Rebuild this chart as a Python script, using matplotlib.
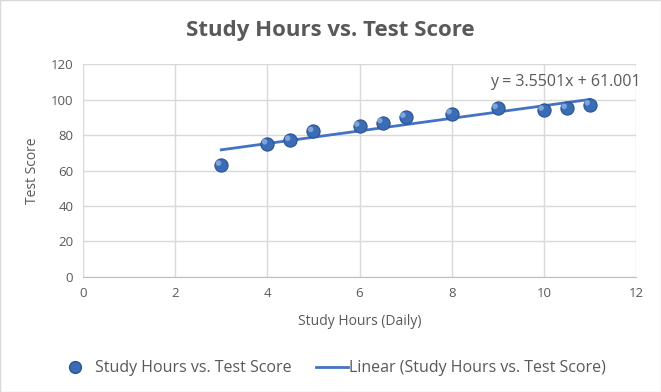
import matplotlib
matplotlib.use("Agg")
import matplotlib.pyplot as plt
import numpy as np
from matplotlib.lines import Line2D

hours = [3, 4, 4.5, 5, 6, 6.5, 7, 8, 9, 10, 10.5, 11]
scores = [63, 75, 77, 82, 85, 87, 90, 92, 95, 94, 95, 97]
x_ticks = [0, 2, 4, 6, 8, 10, 12]
y_ticks = [0, 20, 40, 60, 80, 100, 120]
title = "Study Hours vs. Test Score"
series_name = "Study Hours vs. Test Score"

plt.rcParams['font.family'] = ['Open Sans', 'DejaVu Sans']
gray = '#595959'

fig = plt.figure(figsize=(6.61, 3.92), dpi=100)
fig.patch.set_facecolor('white')
ax = fig.add_axes([0.1256, 0.2934, 0.8366, 0.5433])

slope, intercept = np.polyfit(hours, scores, 1)
xs = np.array([min(hours), max(hours)])
ax.plot(xs, slope * xs + intercept, color='#4472C4', lw=2, zorder=3)

ax.scatter(hours, scores, s=90, color='#3a6db5', edgecolors='#2a5290', linewidths=0.8, zorder=4)
ax.scatter(np.array(hours) - 0.06, np.array(scores) + 1.2, s=16, color='#8fb3e6', edgecolors='none', zorder=5, alpha=0.8)

ax.set_xlim(0, 12)
ax.set_ylim(0, 120)
ax.set_xticks(x_ticks)
ax.set_yticks(y_ticks)
ax.grid(True, color='#d9d9d9', lw=1)
ax.set_axisbelow(True)
for s in ['top', 'right', 'left']:
    ax.spines[s].set_visible(False)
ax.spines['bottom'].set_color('#bfbfbf')
ax.tick_params(length=0, labelsize=9.5, colors=gray, pad=7)

ax.set_xlabel("Study Hours (Daily)", fontsize=10, color=gray, labelpad=10)
ax.set_ylabel("Test Score", fontsize=10, color=gray, labelpad=8)

ax.text(12.1, 110, f"y = {slope:.4f}x + {intercept:.3f}", ha='right', va='center', fontsize=11.5, color=gray)

fig.text(0.5, 0.922, title, ha='center', va='center', fontsize=16, fontweight='bold', color=gray)

h1 = Line2D([], [], marker='o', linestyle='none', markersize=8.5, markerfacecolor='#3a6db5', markeredgecolor='#2a5290')
h2 = Line2D([], [], color='#4472C4', lw=2)
fig.legend([h1], [series_name], loc='center left', bbox_to_anchor=(0.099, 0.06),
           frameon=False, fontsize=11.5, labelcolor=gray, handlelength=1.2, handletextpad=0.66,
           borderpad=0, borderaxespad=0)
fig.legend([h2], [f"Linear ({series_name})"], loc='center left', bbox_to_anchor=(0.478, 0.06),
           frameon=False, fontsize=11.5, labelcolor=gray, handlelength=2.0, handletextpad=0.05,
           borderpad=0, borderaxespad=0)

border = plt.Rectangle((0, 0), 1, 1, transform=fig.transFigure, fill=False, edgecolor='#d9d9d9', lw=1)
fig.patches.append(border)

fig.savefig("out.png", dpi=100)
